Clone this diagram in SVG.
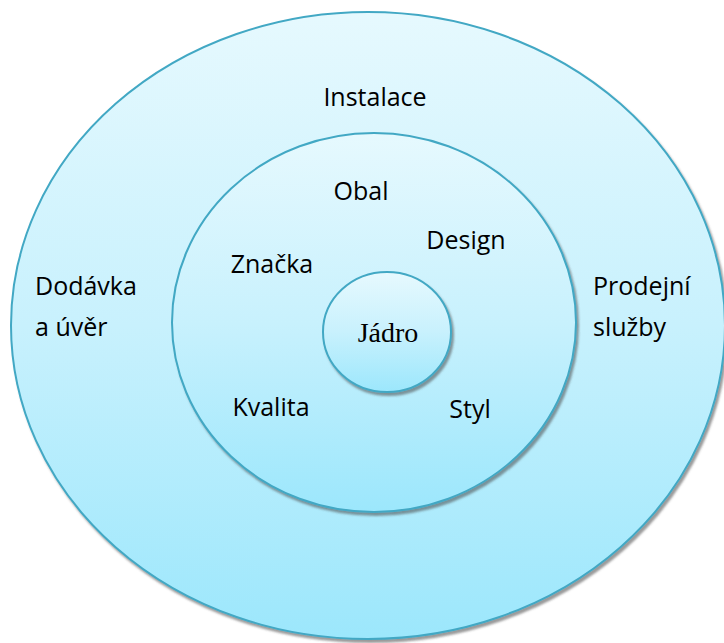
<svg xmlns="http://www.w3.org/2000/svg" width="724" height="643" viewBox="0 0 724 643">
  <defs>
    <linearGradient id="fillGrad" x1="0" y1="0" x2="0" y2="1">
      <stop offset="0" stop-color="#e6f9fe"/>
      <stop offset="0.5" stop-color="#c8f1fd"/>
      <stop offset="1" stop-color="#9ce7fc"/>
    </linearGradient>
    <filter id="shadow" x="-5%" y="-5%" width="112%" height="112%">
      <feDropShadow dx="2" dy="3" stdDeviation="1.3" flood-color="#4a4a4a" flood-opacity="0.55"/>
    </filter>
    <style>
      .ring { fill: url(#fillGrad); stroke: #42a8c4; stroke-width: 2; filter: url(#shadow); }
      .lbl { font-family: "Open Sans", "Liberation Sans", sans-serif; font-size: 25px; fill: #000; }
      .core { font-family: "Liberation Serif", "Times New Roman", serif; font-size: 28px; fill: #000; }
      .mid { text-anchor: middle; }
    </style>
  </defs>
  <rect width="724" height="643" fill="#ffffff"/>

  <!-- outer layer: augmented product -->
  <g id="outer">
    <ellipse class="ring" cx="368" cy="325.5" rx="357" ry="313.5"/>
    <text class="lbl mid" x="375" y="106">Instalace</text>
    <text class="lbl" x="35" y="295">Dodávka</text>
    <text class="lbl" x="35" y="336">a úvěr</text>
    <text class="lbl" x="593" y="295">Prodejní</text>
    <text class="lbl" x="593" y="336">služby</text>
  </g>

  <!-- middle layer: actual product -->
  <g id="middle">
    <ellipse class="ring" cx="374" cy="322.5" rx="202" ry="189.5"/>
    <text class="lbl mid" x="361" y="200">Obal</text>
    <text class="lbl mid" x="466" y="249">Design</text>
    <text class="lbl mid" x="272" y="273">Značka</text>
    <text class="lbl mid" x="271" y="416">Kvalita</text>
    <text class="lbl mid" x="470" y="418">Styl</text>
  </g>

  <!-- core -->
  <g id="core">
    <ellipse class="ring" cx="387" cy="332" rx="64" ry="60"/>
    <text class="core mid" x="388" y="342">Jádro</text>
  </g>
</svg>
